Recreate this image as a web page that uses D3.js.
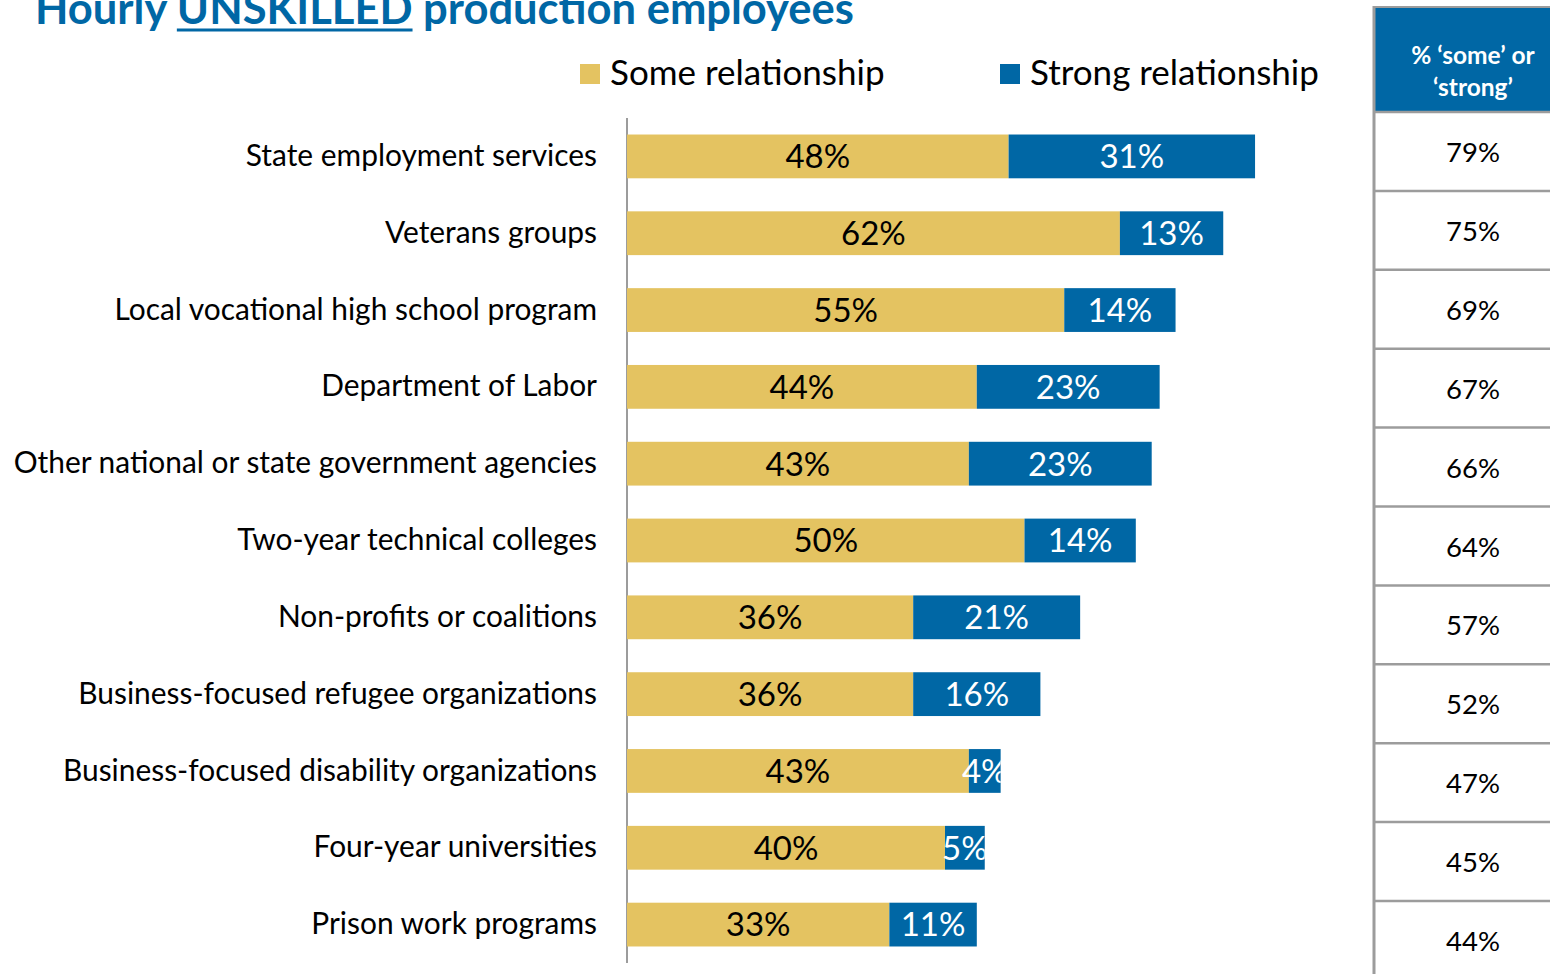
<!DOCTYPE html>
<html>
<head>
<meta charset="utf-8">
<script src="https://cdn.jsdelivr.net/npm/d3@7"></script>
<style>
  html, body { margin: 0; padding: 0; background: #ffffff; }
  svg { display: block; font-family: Lato, "Open Sans", sans-serif; }
</style>
</head>
<body>
<svg id="chart" width="1550" height="974"></svg>
<script>
// Organisations and the share of firms reporting each level of relationship
const categories = [
  "State employment services",
  "Veterans groups",
  "Local vocational high school program",
  "Department of Labor",
  "Other national or state government agencies",
  "Two-year technical colleges",
  "Non-profits or coalitions",
  "Business-focused refugee organizations",
  "Business-focused disability organizations",
  "Four-year universities",
  "Prison work programs"
];
const someValues   = [48, 62, 55, 44, 43, 50, 36, 36, 43, 40, 33];
const strongValues = [31, 13, 14, 23, 23, 14, 21, 16, 4, 5, 11];
const totalValues  = [79, 75, 69, 67, 66, 64, 57, 52, 47, 45, 44];
const seriesNames  = ["Some relationship", "Strong relationship"];
const tableHeader  = ["% \u2018some\u2019 or", "\u2018strong\u2019"];

const YELLOW = "#E4C361";
const BLUE = "#0067A5";
const GRID = "#9C9C9C";

const svg = d3.select("#chart");

// Title, with the skill level underlined
const title = svg.append("text")
  .attr("x", 35).attr("y", 24)
  .attr("fill", BLUE)
  .attr("font-weight", 700)
  .attr("font-size", 43.5);
title.append("tspan").text("Hourly ");
const emph = title.append("tspan").text("UNSKILLED");
title.append("tspan").text(" production employees");

// Underline drawn as a bar beneath the emphasised word
{
  const start = emph.node().getStartPositionOfChar(0).x;
  const n = emph.text().length;
  const endPos = emph.node().getEndPositionOfChar(n - 1).x;
  svg.append("rect")
    .attr("x", start).attr("y", 28.5)
    .attr("width", endPos - start).attr("height", 3)
    .attr("fill", BLUE);
}

// Scales
const x = d3.scaleLinear().domain([0, 100]).range([627, 627 + 795]);
const y = d3.scaleBand().domain(categories).range([118, 963]).paddingInner(0.43).paddingOuter(0.215);

// Legend
const legend = svg.append("g");
const legendX = [580, 1000];
seriesNames.forEach((name, i) => {
  legend.append("rect")
    .attr("x", legendX[i]).attr("y", 64)
    .attr("width", 20).attr("height", 20)
    .attr("fill", i === 0 ? YELLOW : BLUE);
  legend.append("text")
    .attr("x", legendX[i] + 30).attr("y", 85)
    .attr("font-size", 35)
    .attr("fill", "#000")
    .text(name);
});

// Category axis on the left
const yAxis = svg.append("g")
  .attr("transform", `translate(${x(0)},0)`)
  .call(d3.axisLeft(y).tickSize(0).tickPadding(30));
yAxis.select(".domain").attr("stroke", GRID).attr("stroke-width", 2)
  .attr("d", `M0,118V963`);
yAxis.selectAll("text")
  .attr("font-family", "Lato, sans-serif")
  .attr("font-size", 29.9)
  .attr("fill", "#000")
  .attr("dy", "0.32em");

// Stacked bars
const rows = categories.map((c, i) => ({
  cat: c, some: someValues[i], strong: strongValues[i]
}));

const defs = svg.append("defs");
rows.forEach((d, i) => {
  defs.append("clipPath").attr("id", "clip" + i)
    .append("rect")
    .attr("x", x(0)).attr("y", y(d.cat))
    .attr("width", x(d.some + d.strong) - x(0))
    .attr("height", y.bandwidth());
});

const bars = svg.append("g").selectAll("g").data(rows).join("g");

bars.append("rect")
  .attr("x", x(0))
  .attr("y", d => y(d.cat))
  .attr("width", d => x(d.some) - x(0))
  .attr("height", y.bandwidth())
  .attr("fill", YELLOW);

bars.append("rect")
  .attr("x", d => x(d.some))
  .attr("y", d => y(d.cat))
  .attr("width", d => x(d.some + d.strong) - x(d.some))
  .attr("height", y.bandwidth())
  .attr("fill", BLUE);

bars.append("text")
  .attr("x", d => (x(0) + x(d.some)) / 2)
  .attr("y", d => y(d.cat) + y.bandwidth() / 2)
  .attr("dy", "0.36em")
  .attr("text-anchor", "middle")
  .attr("font-size", 33)
  .attr("fill", "#000")
  .text(d => d.some + "%");

bars.append("text")
  .attr("clip-path", (d, i) => `url(#clip${i})`)
  .attr("x", d => (x(d.some) + x(d.some + d.strong)) / 2)
  .attr("y", d => y(d.cat) + y.bandwidth() / 2)
  .attr("dy", "0.36em")
  .attr("text-anchor", "middle")
  .attr("font-size", 33)
  .attr("fill", "#fff")
  .text(d => d.strong + "%");

// Side table of combined shares
const tableX = 1374;
const tableRow = d3.scaleBand().domain(categories).range([112, 112 + 11 * 78.9]);
const table = svg.append("g");

table.append("rect")
  .attr("x", tableX).attr("y", 8)
  .attr("width", 1550 - tableX).attr("height", 104)
  .attr("fill", BLUE);
table.append("line")
  .attr("x1", tableX).attr("x2", 1550).attr("y1", 7).attr("y2", 7)
  .attr("stroke", GRID).attr("stroke-width", 2);

const headerText = table.append("text")
  .attr("text-anchor", "middle")
  .attr("fill", "#fff")
  .attr("font-weight", 700)
  .attr("font-size", 24.5);
tableHeader.forEach((t, i) => {
  headerText.append("tspan").attr("x", 1473).attr("y", 64 + i * 32).text(t);
});

table.selectAll("line.sep")
  .data(categories.slice(1))
  .join("line")
  .attr("class", "sep")
  .attr("x1", tableX).attr("x2", 1550)
  .attr("y1", d => tableRow(d)).attr("y2", d => tableRow(d))
  .attr("stroke", GRID).attr("stroke-width", 2.5);

table.append("line")
  .attr("x1", tableX).attr("x2", 1550).attr("y1", 112).attr("y2", 112)
  .attr("stroke", GRID).attr("stroke-width", 2.5);

table.append("line")
  .attr("x1", tableX).attr("x2", tableX).attr("y1", 6).attr("y2", 974)
  .attr("stroke", GRID).attr("stroke-width", 3);

table.selectAll("text.val")
  .data(categories)
  .join("text")
  .attr("class", "val")
  .attr("x", 1473)
  .attr("y", (d, i) => tableRow(d) + tableRow.bandwidth() / 2 + 1)
  .attr("dy", "0.35em")
  .attr("text-anchor", "middle")
  .attr("font-size", 27.5)
  .attr("fill", "#000")
  .text((d, i) => totalValues[i] + "%");
</script>
</body>
</html>
